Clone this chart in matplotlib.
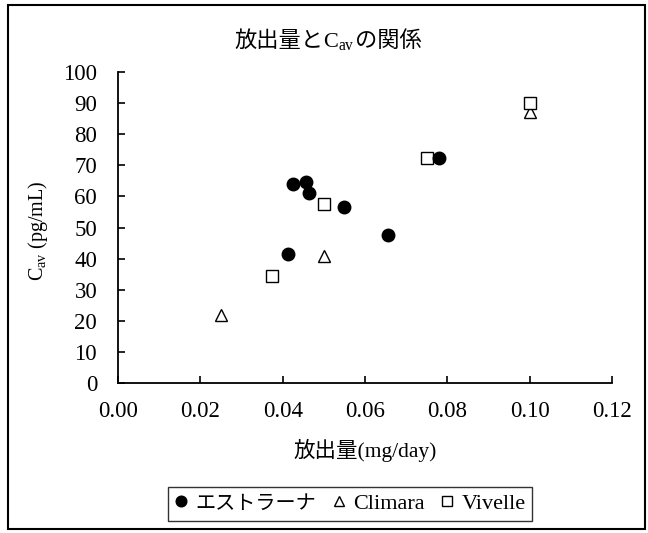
import matplotlib
matplotlib.use("Agg")
import matplotlib.pyplot as plt
from matplotlib.patches import Rectangle
from matplotlib.offsetbox import TextArea, HPacker, AnnotationBbox

# フォント : 欧文は Times 風, 和文は Noto Sans CJK JP
plt.rcParams['font.family'] = ['Liberation Serif', 'Noto Sans CJK JP', 'DejaVu Sans']
plt.rcParams['mathtext.fontset'] = 'custom'
plt.rcParams['mathtext.rm'] = 'Liberation Serif'
plt.rcParams['mathtext.it'] = 'Liberation Serif'

## データ

estrana_x = [0.0424, 0.0457, 0.0463, 0.0549, 0.0657, 0.0414, 0.0779]
estrana_y = [64.1, 64.5, 61.2, 56.5, 47.5, 41.5, 72.5]

climara_x = [0.025, 0.050, 0.100]
climara_y = [22.0, 41.0, 87.0]

vivelle_x = [0.0375, 0.050, 0.075, 0.100]
vivelle_y = [34.5, 57.5, 72.5, 90.0]

xticks = [0.00, 0.02, 0.04, 0.06, 0.08, 0.10, 0.12]
yticks = [0, 10, 20, 30, 40, 50, 60, 70, 80, 90, 100]


fig = plt.figure(figsize=(6.48, 5.33), dpi=100)
ax = fig.add_axes([0.1821, 0.2814, 0.7623, 0.5835])

ax.plot(estrana_x, estrana_y, 'o', color='black', markersize=9, label='エストラーナ', zorder=3)
ax.plot(climara_x, climara_y, '^', mfc='white', mec='black', mew=1.0, markersize=9, label='Climara')
ax.plot(vivelle_x, vivelle_y, 's', mfc='white', mec='black', mew=1.0, markersize=8.5, label='Vivelle')

ax.set_xlim(0, 0.12)
ax.set_ylim(0, 100)
ax.set_xticks(xticks)
ax.set_xticklabels(["%.2f" % v for v in xticks])
ax.set_yticks(yticks)
ax.tick_params(direction='in', length=5, width=1.2, labelsize=16.5)
ax.tick_params(axis='x', pad=13)
ax.tick_params(axis='y', pad=15)

ax.spines['top'].set_visible(False)
ax.spines['right'].set_visible(False)
for s in ['left', 'bottom']:
    ax.spines[s].set_linewidth(1.3)

# タイトル (和文 + 下付き文字なので部品を並べる)
fs_t = 16
parts = [TextArea('放出量と', textprops=dict(fontsize=fs_t)),
         TextArea('$\\mathregular{C_{av}}$', textprops=dict(fontsize=fs_t)),
         TextArea('の関係', textprops=dict(fontsize=fs_t))]
titre = HPacker(children=parts, align='baseline', pad=0, sep=0)
ab = AnnotationBbox(titre, (0.506, 0.922), xycoords='figure fraction', frameon=False)
fig.add_artist(ab)

ax.set_xlabel('放出量(mg/day)', fontsize=15.5, labelpad=12)
ax.set_ylabel('$\\mathregular{C_{av}}$ (pg/mL)', fontsize=14.5)
ax.yaxis.set_label_coords(-0.138, 0.489)

leg = fig.legend(loc='center', bbox_to_anchor=(0.540, 0.055), ncol=3, fontsize=16,
                 frameon=True, fancybox=False, edgecolor='black', handlelength=0.6,
                 handletextpad=0.35, columnspacing=0.7, borderpad=0.3, markerscale=0.85)
leg.get_frame().set_linewidth(1.0)
leg.get_texts()[0].set_fontsize(14.5)

# 外枠
fig.patches.append(Rectangle((0.013, 0.008), 0.983, 0.983, transform=fig.transFigure,
                             fill=False, edgecolor='black', linewidth=1.5))

plt.savefig("out.png", dpi=100)
